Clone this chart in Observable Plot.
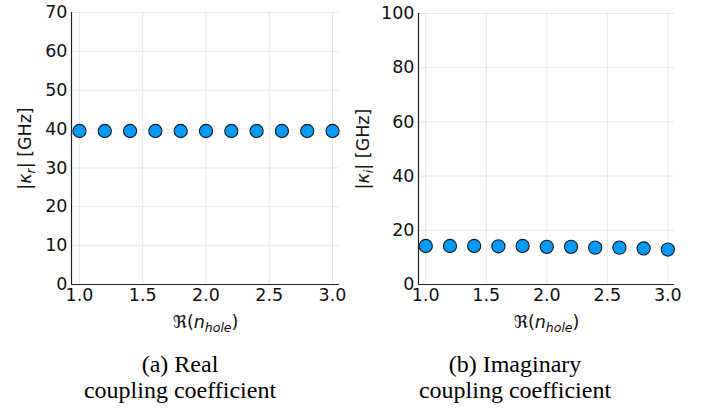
<!DOCTYPE html>
<html>
<head>
<meta charset="utf-8">
<script src="https://cdn.jsdelivr.net/npm/d3@7"></script>
<script src="https://cdn.jsdelivr.net/npm/@observablehq/plot@0.6"></script>
<style>
  body { margin: 0; background: white; }
  #wrap { display: flex; width: 710px; }
  .panel { width: 355px; position: relative; }
  .cap { font-family: "Liberation Serif", "Times New Roman", serif; font-size: 24px; line-height: 26px;
         text-align: center; color: #000; margin-top: 11px; position: relative; white-space: nowrap; }
</style>
</head>
<body>
<div id="wrap">
  <div class="panel" id="pa"></div>
  <div class="panel" id="pb"></div>
</div>
<script>
// data
const nHole = [1.0, 1.2, 1.4, 1.6, 1.8, 2.0, 2.2, 2.4, 2.6, 2.8, 3.0];
const kappaReal = [39.5, 39.5, 39.5, 39.5, 39.5, 39.5, 39.5, 39.5, 39.5, 39.5, 39.5];
const kappaImag = [14.2, 14.2, 14.2, 14.1, 14.2, 13.9, 13.9, 13.6, 13.6, 13.3, 12.9];
const xTicks = [1.0, 1.5, 2.0, 2.5, 3.0];
const yTicksReal = [0, 10, 20, 30, 40, 50, 60, 70];
const yTicksImag = [0, 20, 40, 60, 80, 100];
const captionA = ["(a) Real", "coupling coefficient"];
const captionB = ["(b) Imaginary", "coupling coefficient"];

function panel({values, yDomain, yTicks, ml, mr, mt, mb, xDomain, ylabDx, sub}) {
  const data = nHole.map((x, i) => ({x, v: values[i]}));
  const svg = Plot.plot({
    width: 355, height: 340,
    marginLeft: ml, marginRight: mr, marginTop: mt, marginBottom: mb,
    style: {fontFamily: "DejaVu Sans", fontSize: "17.5px", color: "#111", background: "white", overflow: "visible"},
    x: {domain: xDomain, label: null},
    y: {domain: yDomain, label: null},
    marks: [
      Plot.gridX({ticks: xTicks, stroke: "#000", strokeOpacity: 0.09}),
      Plot.gridY({ticks: yTicks, stroke: "#000", strokeOpacity: 0.09}),
      Plot.axisX({ticks: xTicks, tickSize: 0, tickPadding: 4, tickFormat: d3.format(".1f"), label: null, fontSize: 17.5}),
      Plot.axisY({ticks: yTicks, tickSize: 0, tickPadding: 4, label: null, fontSize: 17.5}),
      Plot.ruleX([xDomain[0]], {stroke: "#222", strokeWidth: 1.2}),
      Plot.ruleY([yDomain[0]], {stroke: "#222", strokeWidth: 1.2}),
      Plot.dot(data, {x: "x", y: "v", r: 6.6, fill: "#009AFA", stroke: "#1a1a1a", strokeWidth: 1.1}),
      Plot.text(["XLABEL"], {frameAnchor: "bottom", dy: 38, text: d => d, fontSize: 17.5, lineAnchor: "middle", textAnchor: "middle"}),
      Plot.text(["YLABEL"], {frameAnchor: "left", dx: ylabDx, rotate: -90, text: d => d, fontSize: 17.5, lineAnchor: "middle", textAnchor: "middle"})
    ]
  });
  const texts = d3.select(svg).selectAll("text").filter(function() { return this.textContent === "XLABEL" || this.textContent === "YLABEL"; });
  texts.each(function() {
    const t = d3.select(this);
    const which = this.textContent;
    t.text("");
    if (which === "XLABEL") {
      t.append("tspan").text("ℜ(");
      t.append("tspan").attr("font-style", "italic").text("n");
      t.append("tspan").attr("font-style", "italic").attr("font-size", "12.5px").attr("dy", "4").text("hole");
      t.append("tspan").attr("dy", "-4").text(")");
    } else {
      t.append("tspan").text("|");
      t.append("tspan").attr("font-style", "italic").text("κ");
      t.append("tspan").attr("font-style", "italic").attr("font-size", "12.5px").attr("dy", "4").text(sub);
      t.append("tspan").attr("dy", "-4").text("| [GHz]");
    }
  });
  return svg;
}

function caption(lines, shift) {
  const d = document.createElement("div");
  d.className = "cap";
  d.style.left = shift + "px";
  lines.forEach((l, i) => { if (i) d.appendChild(document.createElement("br")); d.appendChild(document.createTextNode(l)); });
  return d;
}

const pa = document.getElementById("pa");
pa.appendChild(panel({values: kappaReal, yDomain: [0, 70], yTicks: yTicksReal, ml: 71, mr: 16, mt: 12, mb: 56,
  xDomain: [0.937, 3.055], ylabDx: -46, sub: "r"}));
pa.appendChild(caption(captionA, 2.5));

const pb = document.getElementById("pb");
pb.appendChild(panel({values: kappaImag, yDomain: [0, 100], yTicks: yTicksImag, ml: 63, mr: 36, mt: 13, mb: 56,
  xDomain: [0.94, 3.055], ylabDx: -55, sub: "i"}));
pb.appendChild(caption(captionB, -17.5));
</script>
</body>
</html>
